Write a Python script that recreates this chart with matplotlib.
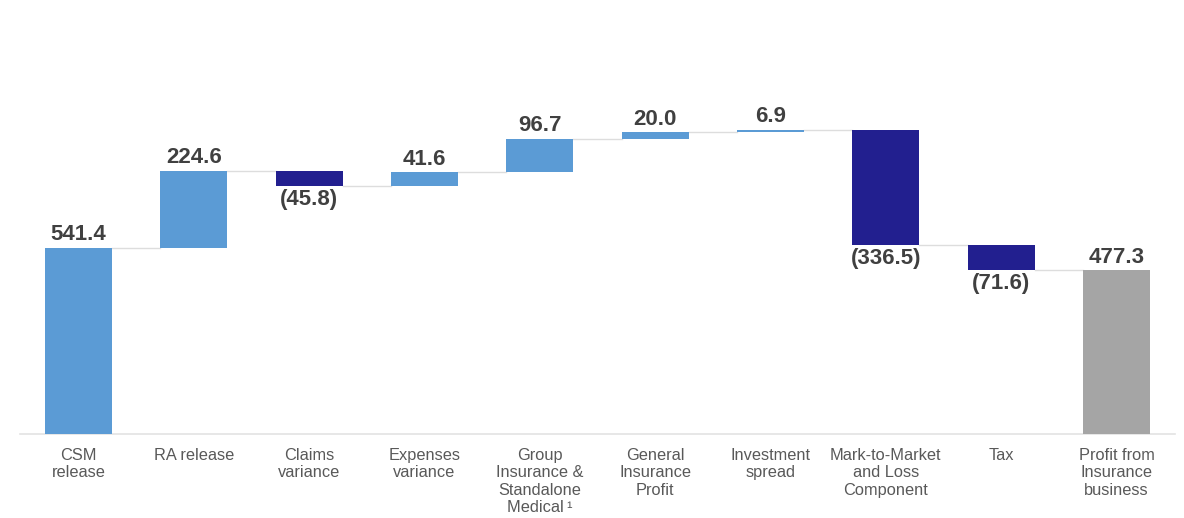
import numpy as np
import matplotlib.pyplot as plt

# waterfall: from CSM release to profit from insurance business

categories = ["CSM\nrelease", "RA release", "Claims\nvariance", "Expenses\nvariance",
              "Group\nInsurance &\nStandalone\nMedical\u2009\u00b9",
              "General\nInsurance\nProfit", "Investment\nspread",
              "Mark-to-Market\nand Loss\nComponent", "Tax",
              "Profit from\nInsurance\nbusiness"]
values = [541.4, 224.6, -45.8, 41.6, 96.7, 20.0, 6.9, -336.5, -71.6, 477.3]
is_total = [False] * 9 + [True]

POS = "#5B9BD5"
NEG = "#221F8F"
TOT = "#A5A5A5"
VAL_COLOR = "#404040"
CAT_COLOR = "#595959"
LINE = "#DDDDDD"

plt.rcParams['font.family'] = ['Liberation Sans', 'DejaVu Sans']

fig = plt.figure(figsize=(11.84, 5.18), dpi=100)
ax = fig.add_axes([20 / 1184, 84 / 518, 1155 / 1184, 352 / 518])

x = np.arange(len(values))
width = 0.58

# bottoms and heights from running total
bottoms, heights, levels = [], [], []
total = 0.0
for v, tot in zip(values, is_total):
    if tot:
        bottoms.append(0)
        heights.append(v)
        total = v
    else:
        bottoms.append(total if v >= 0 else total + v)
        heights.append(abs(v))
        total += v
    levels.append(total)

colors = [TOT if t else (POS if v >= 0 else NEG) for v, t in zip(values, is_total)]
ax.bar(x, heights, width, bottom=bottoms, color=colors, zorder=3)

# connectors between bars
for i in range(len(values) - 1):
    ax.plot([x[i] + width / 2, x[i + 1] - width / 2], [levels[i], levels[i]],
            color=LINE, lw=1, zorder=2)

# value labels
for xi, v, b, h in zip(x, values, bottoms, heights):
    if v >= 0:
        ax.text(xi, b + h + 7, f"{v:.1f}", ha="center", va="bottom",
                fontsize=16, fontweight="bold", color=VAL_COLOR)
    else:
        ax.text(xi, b - 8, f"({abs(v):.1f})", ha="center", va="top",
                fontsize=16, fontweight="bold", color=VAL_COLOR)

ax.set_xlim(-0.507, len(values) - 1 + 0.507)
ax.set_ylim(0, 1024)
ax.set_xticks(x)
ax.set_xticklabels(categories, fontsize=11.8, color=CAT_COLOR, linespacing=1.2)
ax.tick_params(axis="x", length=0, pad=10)
ax.set_yticks([])
for s in ["top", "right", "left"]:
    ax.spines[s].set_visible(False)
ax.spines["bottom"].set_color("#E3E3E3")
ax.spines["bottom"].set_linewidth(1.2)

plt.savefig("out.png", dpi=100)
